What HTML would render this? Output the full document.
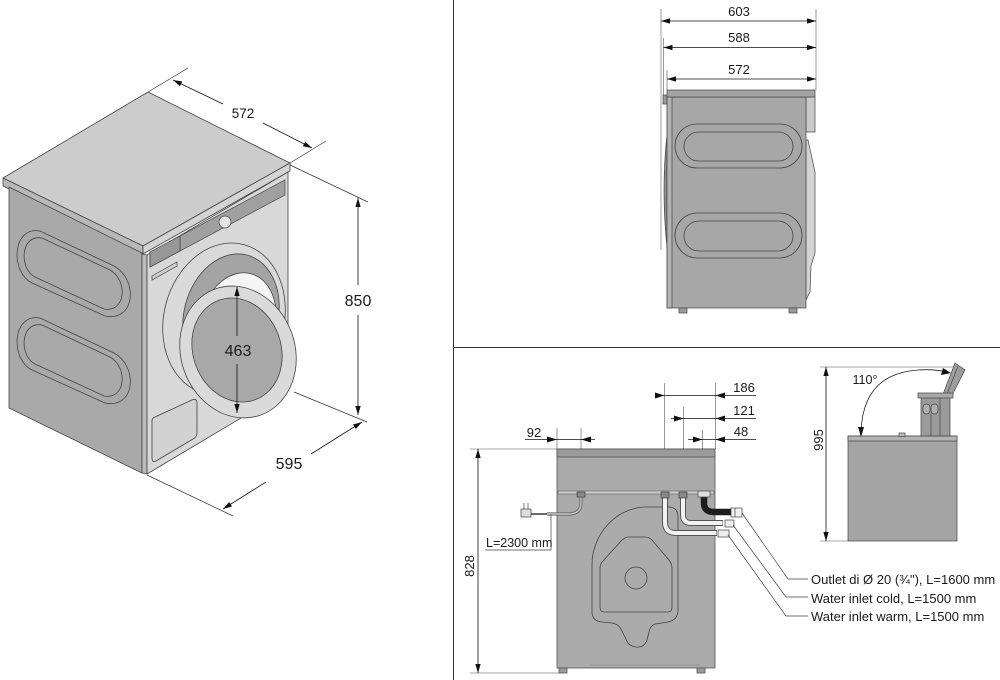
<!DOCTYPE html>
<html><head><meta charset="utf-8"><style>
html,body{margin:0;padding:0;background:#fff;}
svg{display:block;}
text{font-family:"Liberation Sans",Arial,sans-serif;fill:#1a1a1a;}
</style></head><body>
<svg width="1000" height="680" viewBox="0 0 1000 680" xmlns="http://www.w3.org/2000/svg">
<defs>
<marker id="ar" viewBox="0 0 10 6" refX="10" refY="3" markerWidth="9" markerHeight="5.4" markerUnits="userSpaceOnUse" orient="auto-start-reverse"><path d="M0,0 L10,3 L0,6 Z" fill="#111"/></marker>
</defs>
<rect width="1000" height="680" fill="#fff"/>

<!-- dividers -->
<line x1="453.5" y1="0" x2="453.5" y2="680" stroke="#333" stroke-width="1"/>
<line x1="453" y1="347.5" x2="1000" y2="347.5" stroke="#333" stroke-width="1"/>

<!-- ================= ISOMETRIC VIEW ================= -->
<g stroke="#444" stroke-width="0.8" stroke-linejoin="round">
  <polygon points="148,92 290,163 143,246 3,178" fill="#cdcccd"/>
  <polygon points="3,178 143,246 143,254 3,186" fill="#b8b8b8"/>
  <polygon points="143,246 290,163 290,171 143,254" fill="#d4d4d4"/>
  <polygon points="9,187 142,253 142,473 9,408" fill="#a9a9a9"/>
  <polygon points="142,254 147,255 147,474 142,473" fill="#bdbdbd"/>
  <polygon points="147,255 288,172 288,390 147,474" fill="#d8d8d8"/>
</g>
<g fill="none" stroke="#444" stroke-width="0.8">
  <path d="M40,231 L114,266 C138,279 136,322 105,316 L32,283 C10,272 12,226 40,231 Z"/>
  <path d="M42,238 L110,270 C128,280 126,313 104,309 L35,277 C19,269 20,234 42,238 Z"/>
  <path d="M40,318 L114,353 C138,366 136,409 105,403 L32,370 C10,359 12,313 40,318 Z"/>
  <path d="M42,325 L110,357 C128,367 126,400 104,396 L35,364 C19,356 20,321 42,325 Z"/>
</g>
<g stroke="#444" stroke-width="0.7">
  <polygon points="150,252 285,180 285,195 150,267" fill="#a0a0a0"/>
  <line x1="180" y1="236" x2="180" y2="251"/>
  <polygon points="150,252 180,236 180,251 150,267" fill="#989898"/>
  <polygon points="152,276 177,262 177,266 152,280" fill="#cfcfcf"/>
  <circle cx="225" cy="222" r="6" fill="#e4e4e4"/>
</g>
<g stroke="#444" stroke-width="0.8">
  <ellipse cx="224" cy="319" rx="60" ry="77" transform="rotate(15 224 319)" fill="#d9d9d9"/>
  <ellipse cx="231" cy="316" rx="47" ry="63" transform="rotate(15 231 316)" fill="#a4a4a4"/>
  <ellipse cx="238" cy="322" rx="37" ry="50" transform="rotate(15 238 322)" fill="#f5f5f5"/>
  <ellipse cx="238" cy="352" rx="57" ry="67" transform="rotate(-20 238 352)" fill="#dadada"/>
  <ellipse cx="237" cy="350" rx="44" ry="53" transform="rotate(-20 237 350)" fill="#a8a8a8"/>
  <path d="M155,417 L192,400 Q197,398 197,403 L197,433 Q197,437 193,439 L156,461 Q152,463 152,458 L152,421 Q152,418 155,417 Z" fill="#d2d2d2"/>
</g>
<g stroke="#333" stroke-width="0.7" fill="none">
  <line x1="148" y1="92" x2="188" y2="68"/>
  <line x1="290" y1="163" x2="326" y2="141"/>
  <line x1="290" y1="165" x2="368" y2="202"/>
  <line x1="294" y1="392" x2="367" y2="422"/>
  <line x1="147" y1="475" x2="233" y2="516"/>
</g>
<g stroke="#111" stroke-width="0.8" fill="none">
  <line x1="173" y1="80" x2="223" y2="104" marker-start="url(#ar)"/>
  <line x1="263" y1="123" x2="312" y2="148" marker-end="url(#ar)"/>
  <line x1="358" y1="198" x2="358" y2="285" marker-start="url(#ar)"/>
  <line x1="358" y1="315" x2="358" y2="415" marker-end="url(#ar)"/>
  <line x1="237" y1="287" x2="237" y2="336" marker-start="url(#ar)"/>
  <line x1="237" y1="364" x2="237" y2="413" marker-end="url(#ar)"/>
  <line x1="223" y1="509" x2="266" y2="482" marker-start="url(#ar)"/>
  <line x1="311" y1="454" x2="362" y2="422" marker-end="url(#ar)"/>
</g>
<text x="243" y="118" font-size="13.5" text-anchor="middle">572</text>
<text x="358" y="306" font-size="16" text-anchor="middle">850</text>
<text x="238" y="356" font-size="16" text-anchor="middle">463</text>
<text x="289" y="469" font-size="16" text-anchor="middle">595</text>

<!-- ================= SIDE VIEW ================= -->
<g stroke="#555" stroke-width="0.6" fill="none">
  <line x1="661" y1="9" x2="661" y2="250"/>
  <line x1="663.5" y1="38" x2="663.5" y2="96"/>
  <line x1="667" y1="70" x2="667" y2="90"/>
  <line x1="816" y1="9" x2="816" y2="90"/>
</g>
<g stroke="#111" stroke-width="0.8">
  <line x1="661" y1="21" x2="816" y2="21" marker-start="url(#ar)" marker-end="url(#ar)"/>
  <line x1="663.5" y1="47.5" x2="816" y2="47.5" marker-start="url(#ar)" marker-end="url(#ar)"/>
  <line x1="667" y1="79" x2="816" y2="79" marker-start="url(#ar)" marker-end="url(#ar)"/>
</g>
<text x="739" y="16" font-size="13" text-anchor="middle">603</text>
<text x="739" y="42" font-size="13" text-anchor="middle">588</text>
<text x="739" y="74" font-size="13" text-anchor="middle">572</text>
<g stroke="#444" stroke-width="0.7">
  <path d="M667,135 Q661,190 667,247 Z" fill="#8f8f8f"/>
  <rect x="663" y="95" width="4" height="9" fill="#999"/>
  <rect x="806" y="97" width="9" height="35" fill="#c9c9c9"/>
  <polygon points="806,140 808,140 815,172 815,253 811,266 810,292 806,300" fill="#d4d4d4"/>
  <rect x="667" y="97" width="139" height="211" fill="#a7a7a7"/>
  <rect x="667" y="97" width="5" height="211" fill="#b3b3b3"/>
  <rect x="667" y="90" width="148" height="7" fill="#a3a3a3"/>
  <rect x="679" y="308" width="8" height="5" fill="#9a9a9a"/>
  <rect x="789" y="308" width="8" height="5" fill="#9a9a9a"/>
</g>
<g fill="none" stroke="#444" stroke-width="0.8">
  <rect x="675" y="124" width="127" height="44" rx="22"/>
  <rect x="684" y="132" width="109" height="29" rx="14.5"/>
  <rect x="675" y="213" width="127" height="45" rx="22.5"/>
  <rect x="684" y="221" width="109" height="30" rx="15"/>
</g>

<!-- ================= BACK VIEW ================= -->
<g stroke="#555" stroke-width="0.6" fill="none">
  <line x1="470" y1="449" x2="557" y2="449"/>
  <line x1="470" y1="673" x2="562" y2="673"/>
  <line x1="557" y1="428" x2="557" y2="449"/>
  <line x1="581" y1="428" x2="581" y2="492"/>
  <line x1="664.5" y1="383" x2="664.5" y2="492"/>
  <line x1="683.5" y1="407" x2="683.5" y2="492"/>
  <line x1="702.5" y1="430" x2="702.5" y2="492"/>
  <line x1="715.5" y1="383" x2="715.5" y2="449"/>
  <line x1="820" y1="367" x2="960" y2="367"/>
  <line x1="820" y1="541" x2="848" y2="541"/>
</g>
<g stroke="#111" stroke-width="0.8">
  <line x1="478" y1="449" x2="478" y2="673" marker-start="url(#ar)" marker-end="url(#ar)"/>
  <line x1="826" y1="367" x2="826" y2="541" marker-start="url(#ar)" marker-end="url(#ar)"/>
  <line x1="525" y1="439.5" x2="595" y2="439.5"/>
  <line x1="655" y1="395.5" x2="756" y2="395.5"/>
  <line x1="671" y1="418.5" x2="756" y2="418.5"/>
  <line x1="688" y1="439.5" x2="756" y2="439.5"/>
</g>
<g fill="#111">
  <polygon points="557,439.5 547,436.5 547,442.5"/>
  <polygon points="581,439.5 591,436.5 591,442.5"/>
  <polygon points="664.5,395.5 655,392.5 655,398.5"/>
  <polygon points="715.5,395.5 725,392.5 725,398.5"/>
  <polygon points="683.5,418.5 674,415.5 674,421.5"/>
  <polygon points="715.5,418.5 725,415.5 725,421.5"/>
  <polygon points="702.5,439.5 693,436.5 693,442.5"/>
  <polygon points="715.5,439.5 725,436.5 725,442.5"/>
</g>
<text x="534" y="437" font-size="13" text-anchor="middle">92</text>
<text x="744" y="392" font-size="13" text-anchor="middle">186</text>
<text x="744" y="415" font-size="13" text-anchor="middle">121</text>
<text x="741" y="436" font-size="13" text-anchor="middle">48</text>
<text x="0" y="0" font-size="13" text-anchor="middle" transform="translate(474 566) rotate(-90)">828</text>
<text x="0" y="0" font-size="13" text-anchor="middle" transform="translate(823 440) rotate(-90)">995</text>

<g stroke="#555" stroke-width="0.8">
  <rect x="557" y="449" width="158" height="219" fill="#ababab"/>
  <rect x="557" y="449" width="158" height="8" fill="#9b9b9b"/>
  <rect x="558" y="491" width="156" height="3" fill="#c9c9c9" stroke-width="0.5"/>
  <rect x="559" y="668" width="8" height="5" fill="#9a9a9a"/>
  <rect x="697" y="668" width="8" height="5" fill="#9a9a9a"/>
  <line x1="590" y1="665" x2="700" y2="665" stroke="#888" stroke-width="0.6"/>
</g>
<g fill="none" stroke="#444" stroke-width="0.8">
  <path d="M592,612 L592,565 C592,535 615,508 645,507 L668,507 Q678,507 678,517 L678,610 Q678,620 668,622 L655,624 Q650,626 649,632 L647,640 Q644,648 636,647 Q628,646 626,639 L622,631 Q619,624 612,623 L602,622 Q592,621 592,612 Z"/>
  <path d="M604,612 Q600,612 600,607 L600,568 Q600,564 603,561 L622,540 Q625,537 629,537 L645,537 Q649,537 652,540 L669,560 Q672,564 672,568 L672,607 Q672,612 668,612 Z"/>
  <circle cx="636" cy="578" r="11"/>
</g>
<g fill="none" stroke-linecap="butt">
  <path d="M665,497 L665,522 Q665,533 676,533 L717,533" stroke="#555" stroke-width="6"/>
  <path d="M665,497 L665,522 Q665,533 676,533 L716.5,533" stroke="#f2f2f2" stroke-width="4"/>
  <path d="M683,497 L683,515 Q683,523 691,523 L723,523" stroke="#555" stroke-width="6"/>
  <path d="M683,497 L683,515 Q683,523 691,523 L722.5,523" stroke="#f2f2f2" stroke-width="4"/>
  <path d="M704,496 L704,503 Q704,512 714,512 L732,512" stroke="#1e1e1e" stroke-width="6.5"/>
  <path d="M581,496 L581,503 Q581,514 568,514 L547,514" stroke="#666" stroke-width="3.2"/>
  <path d="M581,496 L581,503 Q581,514 568,514 L547,514" stroke="#c8c8c8" stroke-width="1.4"/>
  <line x1="531" y1="514" x2="547" y2="514" stroke="#444" stroke-width="1.6"/>
</g>
<g stroke="#444" stroke-width="0.7">
  <rect x="661" y="492" width="8" height="6" fill="#888"/>
  <rect x="679" y="492" width="8" height="6" fill="#888"/>
  <rect x="698" y="491" width="12" height="6" fill="#ddd"/>
  <rect x="577" y="492" width="8" height="5" fill="#888"/>
  <rect x="731" y="508" width="11" height="9" fill="#f2f2f2"/>
  <line x1="735" y1="508" x2="735" y2="517"/>
  <rect x="725" y="520" width="9" height="7" fill="#eee"/>
  <rect x="718" y="530" width="11" height="7" fill="#eee"/>
  <rect x="521" y="509" width="10" height="8" fill="#ddd"/>
  <line x1="524" y1="503" x2="524" y2="509"/>
  <line x1="528" y1="503" x2="528" y2="509"/>
</g>
<g stroke="#444" stroke-width="0.7" fill="none">
  <polyline points="742,513 788,579 808,579"/>
  <polyline points="733,525 786,597 808,597"/>
  <polyline points="728,535 786,616 808,616"/>
  <polyline points="551,514 551,550 485,550"/>
</g>
<text x="486" y="547" font-size="12.5">L=2300 mm</text>
<text x="811" y="584" font-size="13">Outlet di Ø 20 (¾"), L=1600 mm</text>
<text x="811" y="603" font-size="13">Water inlet cold, L=1500 mm</text>
<text x="811" y="621" font-size="13">Water inlet warm, L=1500 mm</text>

<!-- ================= MINI SIDE VIEW (lid open) ================= -->
<g stroke="#444" stroke-width="0.7">
  <rect x="848" y="436" width="109" height="105" fill="#a4a4a4"/>
  <rect x="848" y="436" width="109" height="5" fill="#b3b3b3"/>
  <rect x="899" y="433" width="6" height="3.5" fill="#bbb"/>
  <polygon points="942,397 955,363 965,370 951,397" fill="#9e9e9e"/>
  <line x1="946" y1="397" x2="958" y2="366"/>
  <rect x="921" y="397" width="29" height="39" fill="#9a9a9a"/>
  <rect x="918" y="393" width="35" height="5" fill="#a8a8a8"/>
  <rect x="923" y="404" width="7" height="10" rx="3.5" fill="#b0b0b0"/>
  <rect x="931" y="404" width="7" height="10" rx="3.5" fill="#b0b0b0"/>
  <line x1="931" y1="414" x2="931" y2="436"/>
  <line x1="940" y1="398" x2="940" y2="436"/>
</g>
<path d="M861,432 C862,404 872,386 890,377 C906,369 930,368 947,372" fill="none" stroke="#222" stroke-width="0.8"/>
<polygon points="861,437 858,427 864,427" fill="#111"/>
<polygon points="951,373 941,375 943,368" fill="#111"/>
<rect x="854" y="372" width="22" height="12" fill="#fff"/>
<text x="865" y="384" font-size="12.5" text-anchor="middle">110°</text>
</svg>
</body></html>
